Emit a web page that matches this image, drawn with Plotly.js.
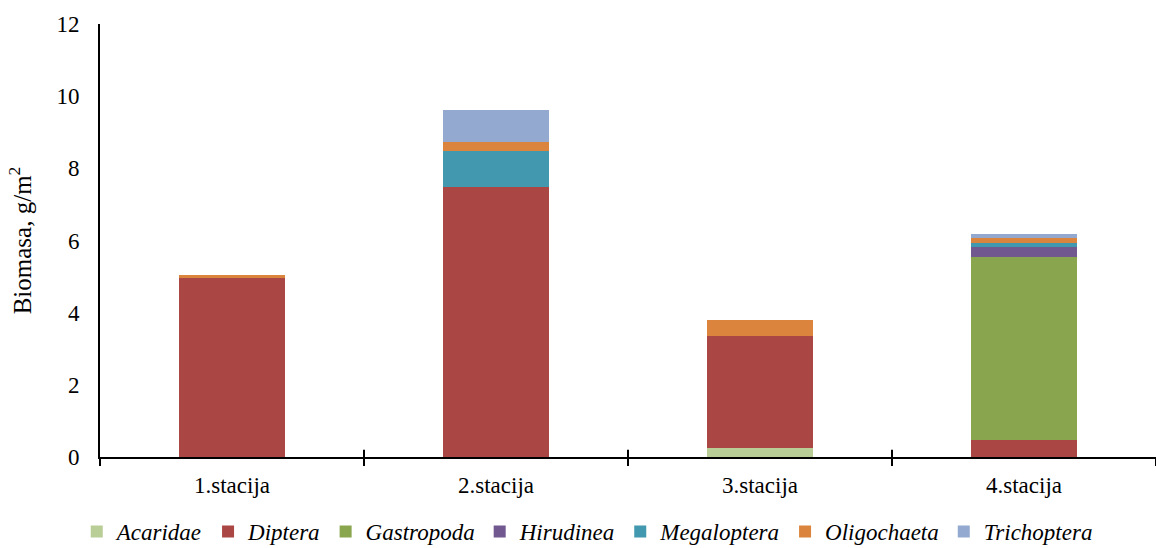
<!DOCTYPE html>
<html>
<head>
<meta charset="utf-8">
<script src="https://cdn.plot.ly/plotly-3.0.1.min.js"></script>
<style>
  html, body { margin: 0; padding: 0; background: #fff; }
  #chart { width: 1156px; height: 548px; }
</style>
</head>
<body>
<div id="chart"></div>
<script>
// Sampling stations
const stations = ['1.stacija', '2.stacija', '3.stacija', '4.stacija'];

// Biomass (g/m²) per taxon at each station
const acaridae    = [0,    0,    0.26, 0];
const diptera     = [4.97, 7.47, 3.10, 0.48];
const gastropoda  = [0,    0,    0,    5.06];
const hirudinea   = [0,    0,    0,    0.28];
const megaloptera = [0,    1.01, 0,    0.12];
const oligochaeta = [0.08, 0.26, 0.44, 0.12];
const trichoptera = [0,    0.89, 0,    0.13];

const taxa = ['Acaridae', 'Diptera', 'Gastropoda', 'Hirudinea', 'Megaloptera', 'Oligochaeta', 'Trichoptera'];
const series = [acaridae, diptera, gastropoda, hirudinea, megaloptera, oligochaeta, trichoptera];
const colors = ['#b9cd96', '#aa4643', '#89a54e', '#71588f', '#4198af', '#db843d', '#93a9cf'];

const serif = 'Liberation Serif, Times New Roman, DejaVu Serif';

const traces = taxa.map((name, i) => ({
  type: 'bar',
  name: '<i>' + name + '</i>',
  x: stations,
  y: series[i],
  marker: { color: colors[i], line: { width: 0 } },
  hoverinfo: 'x+y+name'
}));

// Category-boundary tick marks crossing the baseline (upper half; lower half from axis ticks)
const boundaryTicks = stations.slice(0, -1).map((_, i) => ({
  type: 'line',
  xref: 'x', yref: 'paper',
  x0: i + 0.5, x1: i + 0.5,
  y0: 0, y1: 0.017,
  line: { color: '#000', width: 2 }
}));

const layout = {
  width: 1156,
  height: 548,
  margin: { l: 100, r: 0, t: 24, b: 91 },
  paper_bgcolor: '#fff',
  plot_bgcolor: '#fff',
  barmode: 'stack',
  bargap: 0.6,
  font: { family: serif, size: 23, color: '#000' },
  xaxis: {
    type: 'category',
    showline: true,
    linecolor: '#000',
    linewidth: 2,
    ticks: 'outside',
    tickson: 'boundaries',
    ticklen: 7,
    tickwidth: 2,
    tickcolor: '#000',
    ticklabelstandoff: 6,
    tickfont: { family: serif, size: 23, color: '#000' },
    showgrid: false,
    zeroline: false,
    fixedrange: true
  },
  yaxis: {
    range: [0, 12],
    dtick: 2,
    showline: true,
    linecolor: '#000',
    linewidth: 2,
    ticks: '',
    showgrid: false,
    zeroline: false,
    ticklabelstandoff: 14,
    tickfont: { family: serif, size: 23, color: '#000' },
    title: { text: 'Biomasa, g/m<sup>2</sup>', font: { family: serif, size: 25, color: '#000' }, standoff: 18 },
    fixedrange: true
  },
  legend: {
    orientation: 'h',
    xref: 'container', yref: 'container',
    x: 0.508, xanchor: 'center',
    y: 0.03, yanchor: 'middle',
    traceorder: 'normal',
    font: { family: serif, size: 23, color: '#000' },
    itemwidth: 30,
    bgcolor: 'rgba(0,0,0,0)'
  },
  shapes: boundaryTicks,
  showlegend: true
};

Plotly.newPlot('chart', traces, layout, { displayModeBar: false, staticPlot: true });
</script>
</body>
</html>
